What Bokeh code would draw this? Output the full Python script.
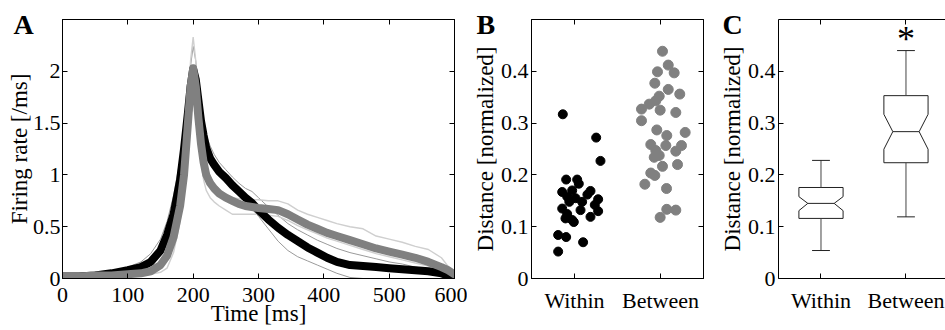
from bokeh.plotting import figure
from bokeh.models import Range1d, LinearAxis, FixedTicker, NumeralTickFormatter, Label, CustomJSTickFormatter
from bokeh.layouts import row
from bokeh.embed import file_html
from bokeh.resources import INLINE

FONT = "Liberation Serif"

# ---------------- Panel A data ----------------
time_ms = [0, 25, 50, 75, 100, 120, 135, 150, 160, 170, 180, 186, 192, 196, 200, 204, 208, 212, 216, 220,
           226, 232, 240, 250, 260, 270, 280, 290, 300, 315, 330, 345, 360, 375, 390, 405, 420, 440, 460,
           480, 500, 520, 540, 560, 580, 590, 600]
rate_black = [0.02, 0.02, 0.03, 0.05, 0.08, 0.11, 0.16, 0.27, 0.42, 0.62, 0.95, 1.25, 1.6, 1.85, 2.02, 1.92,
              1.72, 1.52, 1.38, 1.26, 1.16, 1.1, 1.03, 0.97, 0.9, 0.84, 0.78, 0.73, 0.66, 0.57, 0.49, 0.42,
              0.36, 0.3, 0.25, 0.2, 0.16, 0.13, 0.12, 0.11, 0.1, 0.09, 0.08, 0.07, 0.05, 0.03, 0.02]
rate_gray = [0.02, 0.02, 0.03, 0.03, 0.04, 0.05, 0.07, 0.13, 0.22, 0.4, 0.7, 1.0, 1.5, 1.85, 2.03, 1.85,
             1.55, 1.3, 1.12, 1.0, 0.92, 0.87, 0.82, 0.78, 0.75, 0.72, 0.7, 0.69, 0.68, 0.67, 0.66, 0.62,
             0.57, 0.52, 0.48, 0.44, 0.41, 0.37, 0.33, 0.29, 0.26, 0.23, 0.2, 0.16, 0.11, 0.08, 0.04]
rate_black_hi = [0.03, 0.03, 0.04, 0.07, 0.11, 0.16, 0.24, 0.38, 0.55, 0.8, 1.15, 1.45, 1.8, 2.05, 2.24, 2.1,
                 1.85, 1.65, 1.5, 1.38, 1.28, 1.2, 1.12, 1.05, 0.98, 0.92, 0.87, 0.84, 0.78, 0.69, 0.61, 0.53,
                 0.47, 0.42, 0.37, 0.33, 0.29, 0.25, 0.22, 0.19, 0.16, 0.14, 0.11, 0.09, 0.06, 0.04, 0.03]
rate_black_lo = [0.01, 0.01, 0.02, 0.04, 0.06, 0.09, 0.13, 0.22, 0.35, 0.55, 0.85, 1.1, 1.4, 1.62, 1.78, 1.7,
                 1.5, 1.3, 1.15, 1.05, 0.97, 0.91, 0.85, 0.79, 0.76, 0.74, 0.72, 0.67, 0.6, 0.48, 0.36, 0.27,
                 0.21, 0.17, 0.13, 0.09, 0.05, 0.01, 0.0, 0.0, 0.0, 0.0, 0.0, 0.0, 0.0, 0.0, 0.0]
rate_gray_hi = [0.02, 0.02, 0.02, 0.03, 0.04, 0.05, 0.07, 0.12, 0.2, 0.38, 0.72, 1.1, 1.65, 2.1, 2.33, 2.1,
                1.7, 1.4, 1.2, 1.08, 0.98, 0.92, 0.86, 0.81, 0.78, 0.77, 0.76, 0.76, 0.76, 0.75, 0.75, 0.72,
                0.66, 0.62, 0.59, 0.56, 0.53, 0.5, 0.48, 0.41, 0.38, 0.35, 0.31, 0.28, 0.2, 0.12, 0.05]
rate_gray_lo = [0.01, 0.01, 0.01, 0.02, 0.02, 0.03, 0.04, 0.06, 0.1, 0.25, 0.55, 0.9, 1.35, 1.62, 1.78, 1.62,
                1.35, 1.12, 0.95, 0.85, 0.78, 0.74, 0.7, 0.66, 0.62, 0.62, 0.62, 0.62, 0.62, 0.61, 0.6, 0.56,
                0.51, 0.47, 0.43, 0.39, 0.36, 0.32, 0.28, 0.24, 0.21, 0.18, 0.15, 0.12, 0.08, 0.06, 0.03]
time_ticks = [0, 100, 200, 300, 400, 500, 600]
rate_ticks = [0, 0.5, 1, 1.5, 2]

# ---------------- Panel B data ----------------
within_x = [0.864, 1.252, 1.302, 0.903, 1.031, 1.05, 0.857, 0.973, 1.186, 0.915, 1.012, 1.089, 1.275, 1.236,
            0.857, 1.07, 1.275, 0.915, 1.186, 0.973, 0.895, 0.992, 0.81, 0.903, 1.10, 0.81, 0.94, 1.15]
within_y = [0.317, 0.272, 0.227, 0.191, 0.191, 0.183, 0.167, 0.170, 0.169, 0.158, 0.155, 0.148, 0.153, 0.142,
            0.135, 0.132, 0.130, 0.1245, 0.119, 0.113, 0.116, 0.109, 0.084, 0.080, 0.070, 0.052, 0.148, 0.162]
between_x = [2.023, 2.09, 1.965, 2.159, 1.934, 2.09, 2.224, 1.985, 1.945, 1.869, 1.779, 1.996, 2.178, 1.779,
             1.957, 2.073, 2.287, 2.062, 1.887, 2.244, 2.178, 1.945, 1.927, 1.985, 2.023, 2.198, 1.887, 1.934,
             1.818, 2.07, 2.178, 2.073, 1.996]
between_y = [0.4387, 0.412, 0.399, 0.397, 0.377, 0.365, 0.356, 0.352, 0.343, 0.3366, 0.327, 0.325, 0.3205,
             0.3046, 0.2868, 0.276, 0.282, 0.2567, 0.2586, 0.2567, 0.2458, 0.247, 0.234, 0.2375, 0.2165, 0.220,
             0.2036, 0.199, 0.182, 0.1737, 0.132, 0.1335, 0.118]
group_ticks = [1, 2]
group_names = ["Within", "Between"]
dist_ticks = [0, 0.1, 0.2, 0.3, 0.4]

# ---------------- Panel C data (box plot summary) ----------------
box_center = [1, 2]
whisker_lo = [0.054, 0.119]
q1 = [0.116, 0.2235]
notch_lo = [0.131, 0.2496]
median = [0.145, 0.2835]
notch_hi = [0.158, 0.317]
q3 = [0.1757, 0.353]
whisker_hi = [0.228, 0.44]
star_y = 0.462

BOX_HW = 0.26
NOTCH_HW = 0.155
CAP_HW = 0.105

TICK_SIZE = "22px"
LABEL_SIZE = "23px"


def style_axis(ax):
    ax.major_tick_in = 5
    ax.major_tick_out = 0
    ax.minor_tick_line_color = None
    ax.major_tick_line_color = "black"
    ax.axis_line_color = "black"
    ax.major_label_text_font = FONT
    ax.major_label_text_font_size = TICK_SIZE
    ax.major_label_text_color = "black"
    ax.axis_label_text_font = FONT
    ax.axis_label_text_font_size = LABEL_SIZE
    ax.axis_label_text_font_style = "normal"
    ax.axis_label_text_color = "black"


def mirror(p, side, ticks):
    ax = LinearAxis(ticker=FixedTicker(ticks=ticks))
    style_axis(ax)
    ax.formatter = CustomJSTickFormatter(code="return '';")
    ax.major_label_text_font_size = "1px"
    ax.major_label_standoff = 0
    p.add_layout(ax, side)


def base_fig(width, xr, yr, left, right, letter, letter_offset, ylab_standoffs):
    p = figure(width=width, height=330, x_range=Range1d(*xr), y_range=Range1d(*yr),
               output_backend="svg", toolbar_location=None, title=letter,
               min_border_left=left, min_border_right=right, min_border_top=19, min_border_bottom=52)
    p.title.text_font = FONT
    p.title.text_font_size = "28px"
    p.title.text_font_style = "bold"
    p.title.text_color = "black"
    p.title.align = "left"
    p.title.offset = letter_offset
    p.title.standoff = -40
    p.xgrid.grid_line_color = None
    p.ygrid.grid_line_color = None
    p.background_fill_color = "white"
    p.border_fill_color = "white"
    p.outline_line_color = "black"
    p.outline_line_width = 1
    p.outline_line_alpha = 1
    for ax in (p.xaxis[0], p.yaxis[0]):
        style_axis(ax)
    p.xaxis[0].major_label_standoff = 9
    p.xaxis[0].axis_label_standoff = -4
    p.yaxis[0].major_label_standoff = ylab_standoffs[0]
    p.yaxis[0].axis_label_standoff = ylab_standoffs[1]
    return p


# ---------------- Panel A ----------------
pA = base_fig(467, (0, 600), (0, 2.5), 62, 13, "A", -49, (2, -2))
pA.xaxis[0].ticker = FixedTicker(ticks=time_ticks)
pA.yaxis[0].ticker = FixedTicker(ticks=rate_ticks)
pA.yaxis[0].formatter = NumeralTickFormatter(format="0.[0]")
pA.xaxis[0].axis_label = "Time [ms]"
pA.yaxis[0].axis_label = "Firing rate [/ms]"
mirror(pA, "above", time_ticks)
mirror(pA, "right", rate_ticks)

for ys in (rate_black_hi, rate_black_lo):
    pA.line(time_ms, ys, line_color="#9a9a9a", line_width=1)
for ys in (rate_gray_hi, rate_gray_lo):
    pA.line(time_ms, ys, line_color="#cfcfcf", line_width=1.4)
pA.line(time_ms, rate_black, line_color="black", line_width=8, line_join="round", line_cap="round")
pA.line(time_ms, rate_gray, line_color="#808080", line_width=8, line_join="round", line_cap="round")

# ---------------- Panel B ----------------
pB = base_fig(247, (0.5, 2.5), (0, 0.5), 64, 11, "B", -55, (3, 0))
pB.xaxis[0].ticker = FixedTicker(ticks=group_ticks)
pB.xaxis[0].major_label_overrides = {1: group_names[0], 2: group_names[1]}
pB.yaxis[0].ticker = FixedTicker(ticks=dist_ticks)
pB.yaxis[0].formatter = NumeralTickFormatter(format="0.[0]")
pB.yaxis[0].axis_label = "Distance [normalized]"
mirror(pB, "above", group_ticks)
mirror(pB, "right", dist_ticks)
pB.scatter(within_x, within_y, size=9, fill_color="black", line_color="black")
pB.scatter(between_x, between_y, size=10, fill_color="#808080", line_color="#808080")

# ---------------- Panel C ----------------
pC = base_fig(231, (0.5, 2.465), (0, 0.5), 64, 0, "C", -56, (3, 0))
pC.outline_line_color = None
pC.xaxis[0].ticker = FixedTicker(ticks=group_ticks)
pC.xaxis[0].major_label_overrides = {1: group_names[0], 2: group_names[1]}
pC.yaxis[0].ticker = FixedTicker(ticks=dist_ticks)
pC.yaxis[0].formatter = NumeralTickFormatter(format="0.[0]")
pC.yaxis[0].axis_label = "Distance [normalized]"
mirror(pC, "above", group_ticks)

for i, c in enumerate(box_center):
    xs = [c - BOX_HW, c - BOX_HW, c - NOTCH_HW, c - BOX_HW, c - BOX_HW,
          c + BOX_HW, c + BOX_HW, c + NOTCH_HW, c + BOX_HW, c + BOX_HW]
    ys = [q1[i], notch_lo[i], median[i], notch_hi[i], q3[i],
          q3[i], notch_hi[i], median[i], notch_lo[i], q1[i]]
    pC.patch(xs, ys, fill_color="white", line_color="#222222", line_width=1)
    pC.segment([c - NOTCH_HW], [median[i]], [c + NOTCH_HW], [median[i]], line_color="#222222", line_width=1)
    pC.segment([c, c], [q3[i], q1[i]], [c, c], [whisker_hi[i], whisker_lo[i]],
               line_color="#444444", line_width=1)
    pC.segment([c - CAP_HW, c - CAP_HW], [whisker_hi[i], whisker_lo[i]],
               [c + CAP_HW, c + CAP_HW], [whisker_hi[i], whisker_lo[i]], line_color="#222222", line_width=1)

pC.add_layout(Label(x=box_center[1], y=star_y, text="*", text_font=FONT, text_font_size="36px",
                    text_color="black", text_align="center", text_baseline="alphabetic"))

layout = row(pA, pB, pC)
open("out.html", "w").write(file_html(layout, INLINE))
